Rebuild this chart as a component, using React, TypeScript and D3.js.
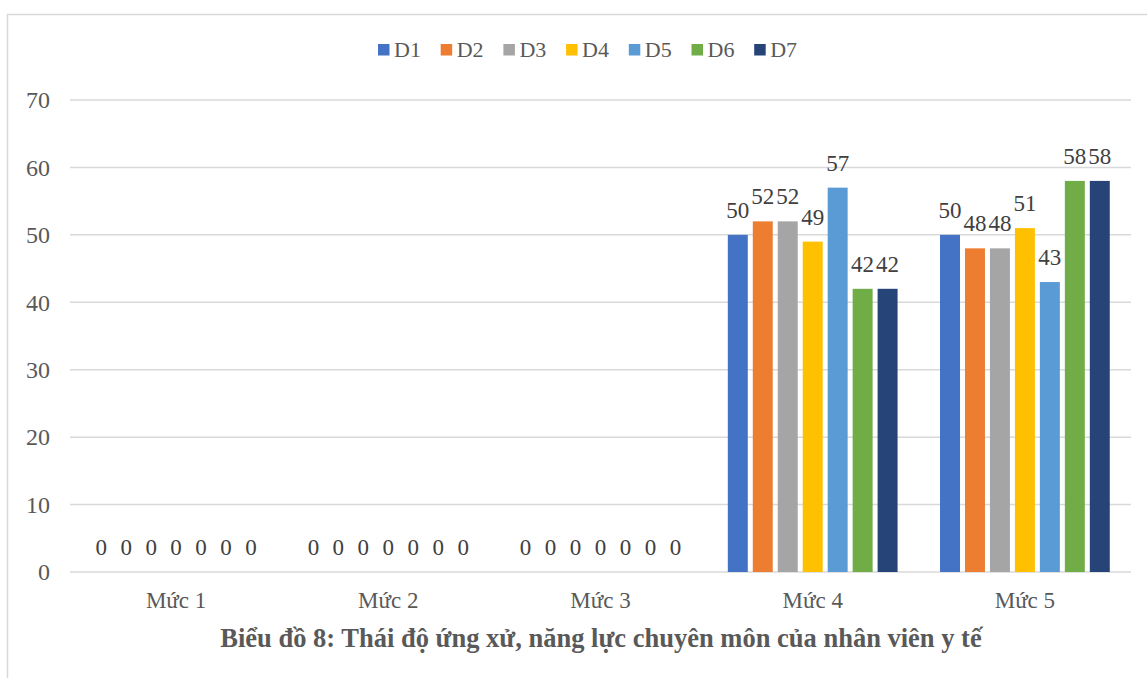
import React from "react";
import * as d3 from "d3";

const categories = ["Mức 1", "Mức 2", "Mức 3", "Mức 4", "Mức 5"];
const seriesNames = ["D1", "D2", "D3", "D4", "D5", "D6", "D7"];
const seriesColors = ["#4472C4", "#ED7D31", "#A5A5A5", "#FFC000", "#5B9BD5", "#70AD47", "#264478"];
// values per series, one value per category
const D1 = [0, 0, 0, 50, 50];
const D2 = [0, 0, 0, 52, 48];
const D3 = [0, 0, 0, 52, 48];
const D4 = [0, 0, 0, 49, 51];
const D5 = [0, 0, 0, 57, 43];
const D6 = [0, 0, 0, 42, 58];
const D7 = [0, 0, 0, 42, 58];
const seriesValues = [D1, D2, D3, D4, D5, D6, D7];
const yTicks = [0, 10, 20, 30, 40, 50, 60, 70];
const title = "Biểu đồ 8: Thái độ ứng xử, năng lực chuyên môn của nhân viên y tế";

const W = 1147;
const H = 678;
const FONT = "'Liberation Serif', 'Times New Roman', serif";

export default function App() {
  const plotLeft = 70;
  const plotRight = 1131;
  const y = d3.scaleLinear().domain([0, 70]).range([572, 100]);
  const x0 = d3.scaleBand<string>().domain(categories).range([plotLeft, plotRight]).paddingInner(0.2).paddingOuter(0.1);
  const x1 = d3.scaleBand<string>().domain(seriesNames).range([0, x0.bandwidth()]).paddingInner(0.2).paddingOuter(0);

  const legendX = d3.scaleBand<string>().domain(seriesNames).range([378, 378 + 62.7 * 7]);

  return (
    <svg width={W} height={H} style={{ position: "absolute", left: 0, top: 0, background: "#fff" }} fontFamily={FONT}>
      <rect x={7.5} y={14.5} width={W + 10} height={H + 10} fill="#fff" stroke="#D9D9D9" strokeWidth={1.5} />
      {/* legend */}
      {seriesNames.map((s, i) => (
        <g key={s}>
          <rect x={legendX(s)} y={44} width={11.5} height={11.5} fill={seriesColors[i]} />
          <text x={(legendX(s) as number) + 16} y={57} fontSize={22} fill="#595959">{s}</text>
        </g>
      ))}
      {/* grid */}
      {yTicks.map((t) => (
        <g key={t}>
          <line x1={plotLeft} x2={plotRight} y1={y(t)} y2={y(t)} stroke="#D9D9D9" strokeWidth={1.5} />
          <text x={50} y={y(t) + 8.3} fontSize={24} fill="#595959" textAnchor="end">{t}</text>
        </g>
      ))}
      {/* bars */}
      {categories.map((c, ci) => (
        <g key={c} transform={`translate(${x0(c)},0)`}>
          {seriesNames.map((s, si) => {
            const v = seriesValues[si][ci];
            const bx = x1(s) as number;
            return (
              <g key={s}>
                {v > 0 && (
                  <rect x={bx} y={y(v)} width={x1.bandwidth()} height={y(0) - y(v)} fill={seriesColors[si]} />
                )}
                <text x={bx + x1.bandwidth() / 2} y={y(v) - 17} fontSize={23} fill="#404040" textAnchor="middle">{v}</text>
              </g>
            );
          })}
          <text x={x0.bandwidth() / 2} y={608.3} fontSize={23} fill="#595959" textAnchor="middle">{c}</text>
        </g>
      ))}
      <text x={601} y={647} fontSize={26.5} fontWeight="bold" fill="#595959" textAnchor="middle">{title}</text>
    </svg>
  );
}
